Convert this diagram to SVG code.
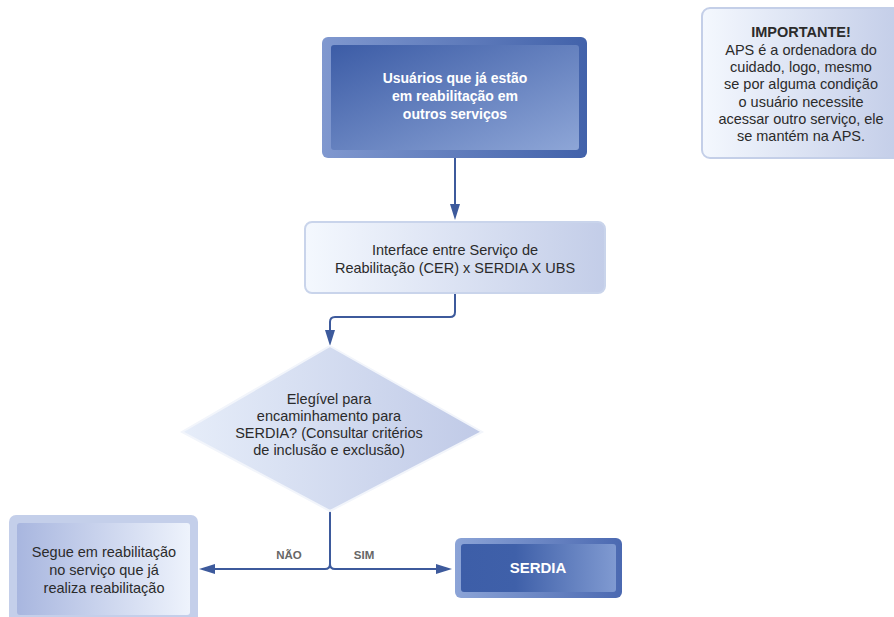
<svg xmlns="http://www.w3.org/2000/svg" width="894" height="617" viewBox="0 0 894 617">
<style>
.t{font-family:"Liberation Sans",Arial,sans-serif;font-size:14.5px;fill:#2b2b2b;text-anchor:middle}
.w{font-family:"Liberation Sans",Arial,sans-serif;font-weight:bold;font-size:14px;fill:#ffffff;text-anchor:middle}
.b{font-weight:bold}
.lbl{font-family:"Liberation Sans",Arial,sans-serif;font-weight:bold;font-size:11.5px;fill:#666666;text-anchor:middle}
.c{fill:none;stroke:#3d5a9c;stroke-width:2}
</style>
<defs>
<marker id="ah" viewBox="0 0 16 10" markerWidth="16" markerHeight="10" refX="10" refY="5" orient="auto" markerUnits="userSpaceOnUse">
<path d="M0,0 L16,5 L0,10 z" fill="#3d5a9c"/>
</marker>
<linearGradient id="gTopOuter" x1="0" y1="0" x2="1" y2="0">
<stop offset="0" stop-color="#8098cf"/><stop offset="1" stop-color="#4262aa"/>
</linearGradient>
<linearGradient id="gTopInner" x1="0" y1="0" x2="1" y2="1">
<stop offset="0" stop-color="#3c5ca6"/><stop offset="1" stop-color="#8ea6d7"/>
</linearGradient>
<linearGradient id="gLight" x1="0" y1="0" x2="1" y2="0">
<stop offset="0" stop-color="#f4f8fe"/><stop offset="1" stop-color="#c3cde8"/>
</linearGradient>
<linearGradient id="gDiam" x1="0" y1="0" x2="1" y2="0">
<stop offset="0" stop-color="#e6edf9"/><stop offset="1" stop-color="#c0cae7"/>
</linearGradient>
<linearGradient id="gLeftInner" x1="0" y1="0" x2="1" y2="0">
<stop offset="0" stop-color="#a8b6df"/><stop offset="1" stop-color="#eef3fc"/>
</linearGradient>
<linearGradient id="gSerOuter" x1="0" y1="0" x2="1" y2="0">
<stop offset="0" stop-color="#8ca4d7"/><stop offset="1" stop-color="#4b69b1"/>
</linearGradient>
<linearGradient id="gSerInner" x1="0" y1="0" x2="1" y2="0">
<stop offset="0" stop-color="#3d5ea8"/><stop offset="0.35" stop-color="#3f60a9"/><stop offset="1" stop-color="#809ad1"/>
</linearGradient>
</defs>

<g id="connectors">
<path class="c" d="M455,158 V214" marker-end="url(#ah)"/>
<path class="c" d="M455,293 V312 Q455,317 450,317 H335 Q330,317 330,322 V340" marker-end="url(#ah)"/>
<path class="c" d="M330,511 V564 Q330,569 325,569 H205" marker-end="url(#ah)"/>
<path class="c" d="M330,564 Q330,569 335,569 H446" marker-end="url(#ah)"/>
<text class="lbl" x="289" y="559">NÃO</text>
<text class="lbl" x="364" y="559">SIM</text>
</g>

<g id="node-usuarios">
<rect x="322" y="37" width="265" height="121" rx="6" fill="url(#gTopOuter)"/>
<rect x="331" y="45" width="248" height="105" rx="3" fill="url(#gTopInner)"/>
<text class="w" x="455" y="83">Usuários que já estão</text>
<text class="w" x="455" y="101">em reabilitação em</text>
<text class="w" x="455" y="119">outros serviços</text>
</g>

<g id="node-interface">
<rect x="305" y="222" width="300" height="71" rx="7" fill="url(#gLight)" stroke="#c9d4eb" stroke-width="2"/>
<text class="t" x="455" y="255">Interface entre Serviço de</text>
<text class="t" x="455" y="273">Reabilitação (CER) x SERDIA X UBS</text>
</g>

<g id="node-elegivel">
<polygon points="330,346 482,432 330,511 182,432" fill="url(#gDiam)" stroke="#f2f5fb" stroke-width="2"/>
<text class="t" x="329" y="404">Elegível para</text>
<text class="t" x="329" y="421">encaminhamento para</text>
<text class="t" x="329" y="438">SERDIA? (Consultar critérios</text>
<text class="t" x="329" y="455">de inclusão e exclusão)</text>
</g>

<g id="node-segue">
<rect x="9" y="515" width="189" height="112" rx="7" fill="#c4cfea"/>
<rect x="17" y="523" width="173" height="92" rx="3" fill="url(#gLeftInner)"/>
<text class="t" x="104" y="557">Segue em reabilitação</text>
<text class="t" x="104" y="575">no serviço que já</text>
<text class="t" x="104" y="593">realiza reabilitação</text>
</g>

<g id="node-serdia">
<rect x="455" y="538" width="167" height="60" rx="6" fill="url(#gSerOuter)"/>
<rect x="461" y="544" width="155" height="48" rx="3" fill="url(#gSerInner)"/>
<text class="w" x="538" y="573" style="font-size:15px">SERDIA</text>
</g>

<g id="node-importante">
<rect x="702" y="8" width="200" height="150" rx="8" fill="url(#gLight)" stroke="#c4cfe8" stroke-width="2"/>
<text class="t b" x="801" y="37">IMPORTANTE!</text>
<text class="t" x="801" y="54.5">APS é a ordenadora do</text>
<text class="t" x="801" y="72">cuidado, logo, mesmo</text>
<text class="t" x="801" y="89">se por alguma condição</text>
<text class="t" x="801" y="106.5">o usuário necessite</text>
<text class="t" x="801" y="124">acessar outro serviço, ele</text>
<text class="t" x="801" y="141">se mantém na APS.</text>
</g>
</svg>
